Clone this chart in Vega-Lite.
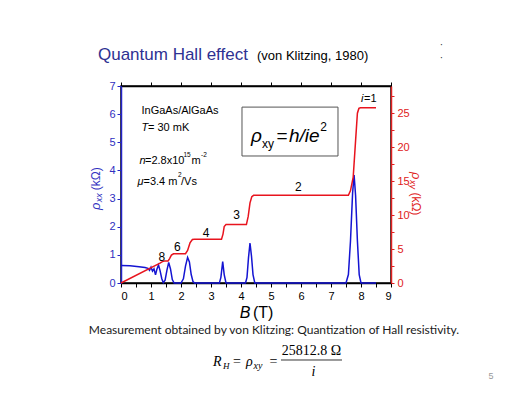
{
  "$schema": "https://vega.github.io/schema/vega-lite/v6.json",
  "width": 270,
  "height": 197,
  "autosize": {"type": "none"},
  "padding": {"left": 121, "top": 86, "right": 134, "bottom": 110},
  "background": "white",
  "view": {"stroke": "black", "strokeWidth": 1.5},
  "config": {"font": "Liberation Sans"},
  "datasets": {
    "one": [{}],
    "rxx": [
      {"B": 0, "r": 0.62}, {"B": 0.3, "r": 0.61}, {"B": 0.6, "r": 0.58}, {"B": 0.8, "r": 0.55},
      {"B": 0.9, "r": 0.52}, {"B": 0.95, "r": 0.45}, {"B": 1.0, "r": 0.56}, {"B": 1.05, "r": 0.42},
      {"B": 1.1, "r": 0.5}, {"B": 1.15, "r": 0.29}, {"B": 1.2, "r": 0.5}, {"B": 1.25, "r": 0.64},
      {"B": 1.3, "r": 0.45}, {"B": 1.36, "r": 0.15}, {"B": 1.41, "r": 0.01}, {"B": 1.47, "r": 0.1},
      {"B": 1.53, "r": 0.45}, {"B": 1.59, "r": 0.73}, {"B": 1.65, "r": 0.5}, {"B": 1.71, "r": 0.12},
      {"B": 1.77, "r": 0}, {"B": 2.0, "r": 0}, {"B": 2.08, "r": 0.15}, {"B": 2.15, "r": 0.6},
      {"B": 2.22, "r": 0.91}, {"B": 2.28, "r": 0.75}, {"B": 2.34, "r": 0.3}, {"B": 2.4, "r": 0.05},
      {"B": 2.45, "r": 0}, {"B": 3.28, "r": 0}, {"B": 3.33, "r": 0.2}, {"B": 3.39, "r": 0.76},
      {"B": 3.44, "r": 0.3}, {"B": 3.5, "r": 0}, {"B": 4.15, "r": 0}, {"B": 4.2, "r": 0.2},
      {"B": 4.25, "r": 0.9}, {"B": 4.3, "r": 1.42}, {"B": 4.35, "r": 0.95}, {"B": 4.4, "r": 0.3},
      {"B": 4.46, "r": 0}, {"B": 7.5, "r": 0}, {"B": 7.58, "r": 0.3}, {"B": 7.65, "r": 1.5},
      {"B": 7.72, "r": 3.2}, {"B": 7.77, "r": 3.84}, {"B": 7.82, "r": 3.1}, {"B": 7.88, "r": 1.5},
      {"B": 7.94, "r": 0.3}, {"B": 8.0, "r": 0}, {"B": 8.5, "r": 0}
    ],
    "rxy": [
      {"B": 0, "r": 0}, {"B": 1.3, "r": 2.92}, {"B": 1.38, "r": 3.15}, {"B": 1.45, "r": 3.23},
      {"B": 1.57, "r": 3.25}, {"B": 1.62, "r": 3.6}, {"B": 1.68, "r": 4.1}, {"B": 1.75, "r": 4.3},
      {"B": 2.15, "r": 4.32}, {"B": 2.22, "r": 4.8}, {"B": 2.3, "r": 5.9}, {"B": 2.38, "r": 6.4},
      {"B": 2.45, "r": 6.45}, {"B": 3.35, "r": 6.45}, {"B": 3.4, "r": 7.2}, {"B": 3.44, "r": 8.3},
      {"B": 3.5, "r": 8.6}, {"B": 4.18, "r": 8.6}, {"B": 4.24, "r": 9.8}, {"B": 4.3, "r": 11.8},
      {"B": 4.36, "r": 12.7}, {"B": 4.42, "r": 12.9}, {"B": 7.58, "r": 12.9}, {"B": 7.65, "r": 13.6},
      {"B": 7.74, "r": 15.6}, {"B": 7.82, "r": 21}, {"B": 7.88, "r": 25}, {"B": 7.93, "r": 25.7},
      {"B": 7.98, "r": 25.8}, {"B": 8.5, "r": 25.8}
    ],
    "plateaus": [
      {"B": 1.36, "v": 0.91, "label": "8"}, {"B": 1.877, "v": 1.27, "label": "6"},
      {"B": 2.833, "v": 1.78, "label": "4"}, {"B": 3.856, "v": 2.43, "label": "3"},
      {"B": 5.91, "v": 3.42, "label": "2"}
    ]
  },
  "layer": [
    {
      "data": {"name": "rxx"},
      "mark": {"type": "line", "color": "#1414d2", "strokeWidth": 1.5},
      "encoding": {
        "x": {"field": "B", "type": "quantitative", "scale": {"domain": [0, 9], "nice": false},
          "axis": {"orient": "bottom", "title": null, "values": [0,0.5,1,1.5,2,2.5,3,3.5,4,4.5,5,5.5,6,6.5,7,7.5,8,8.5,9],
            "labelExpr": "datum.value % 1 === 0 ? '' + datum.value : ''", "labelOverlap": false, "grid": false, "tickSize": 4,
            "tickColor": "black", "domainColor": "black", "domainWidth": 1.5, "labelColor": "black",
            "labelFontSize": 11, "labelPadding": 3, "labelFont": "Liberation Sans",
            "encoding": {"ticks": {"update": {"y2": {"value": -4}}}}}},
        "y": {"field": "r", "type": "quantitative", "scale": {"domain": [0, 7], "nice": false},
          "axis": {"orient": "left", "title": null, "values": [0,1,2,3,4,5,6,7], "labelOverlap": false, "grid": false, "tickSize": 4,
            "tickColor": "#2424c8", "domainColor": "#2424c8", "domainWidth": 1.5, "labelColor": "#3030c0",
            "labelFontSize": 11, "labelPadding": 2, "labelFont": "Liberation Sans",
            "encoding": {"ticks": {"update": {"x2": {"value": 4}}}}}}
      }
    },
    {
      "data": {"name": "rxy"},
      "mark": {"type": "line", "color": "#e8141e", "strokeWidth": 1.5},
      "encoding": {
        "x": {"field": "B", "type": "quantitative", "scale": {"domain": [0, 9], "nice": false},
          "axis": {"orient": "top", "title": null, "values": [0,1,2,3,4,5,6,7,8,9], "labels": false, "grid": false, "tickSize": 4,
            "tickColor": "black", "domainColor": "black", "domainWidth": 1.5,
            "encoding": {"ticks": {"update": {"y2": {"value": 4}}}}}},
        "y": {"field": "r", "type": "quantitative", "scale": {"domain": [0, 29], "nice": false},
          "axis": {"orient": "right", "title": null, "values": [0,2.5,5,7.5,10,12.5,15,17.5,20,22.5,25,27.5],
            "labelExpr": "datum.value % 5 === 0 ? datum.label : ''", "labelOverlap": false, "grid": false, "tickSize": 3,
            "tickColor": "#e02020", "domainColor": "#e02020", "domainWidth": 1.5, "labelColor": "#e02020",
            "labelFontSize": 11, "labelPadding": 3, "labelFont": "Liberation Sans"}}
      }
    },
    {
      "data": {"name": "one"},
      "mark": {"type": "rect", "fill": "white", "stroke": "#555555", "strokeWidth": 1},
      "encoding": {"x": {"datum": 4.033, "axis": null}, "x2": {"datum": 7.233}, "y": {"datum": 6.25, "axis": null, "scale": {"domain": [0, 7], "nice": false}}, "y2": {"datum": 4.513}}
    },
    {
      "data": {"name": "plateaus"},
      "mark": {"type": "text", "align": "center", "baseline": "middle", "fontSize": 12, "color": "black"},
      "encoding": {"x": {"field": "B", "type": "quantitative", "axis": null}, "y": {"field": "v", "type": "quantitative", "axis": null, "scale": {"domain": [0, 7], "nice": false}}, "text": {"field": "label"}}
    },
    {"data": {"name": "one"}, "mark": {"type": "text", "align": "left", "baseline": "middle", "fontSize": 11, "fontStyle": "italic"},
      "encoding": {"x": {"datum": 8.0, "axis": null}, "y": {"datum": 6.54, "axis": null, "scale": {"domain": [0, 7], "nice": false}}, "text": {"value": "i"}}},
    {"data": {"name": "one"}, "mark": {"type": "text", "align": "left", "baseline": "middle", "fontSize": 11},
      "encoding": {"x": {"datum": 8.1, "axis": null}, "y": {"datum": 6.54, "axis": null, "scale": {"domain": [0, 7], "nice": false}}, "text": {"value": "=1"}}},

    {"data": {"name": "one"}, "mark": {"type": "text", "align": "left", "baseline": "middle", "fontSize": 11},
      "encoding": {"x": {"datum": 0.683, "axis": null}, "y": {"datum": 6.112, "axis": null, "scale": {"domain": [0, 7], "nice": false}}, "text": {"value": "InGaAs/AlGaAs"}}},
    {"data": {"name": "one"}, "mark": {"type": "text", "align": "left", "baseline": "middle", "fontSize": 11, "fontStyle": "italic"},
      "encoding": {"x": {"datum": 0.683, "axis": null}, "y": {"datum": 5.508, "axis": null, "scale": {"domain": [0, 7], "nice": false}}, "text": {"value": "T"}}},
    {"data": {"name": "one"}, "mark": {"type": "text", "align": "left", "baseline": "middle", "fontSize": 11},
      "encoding": {"x": {"datum": 0.9, "axis": null}, "y": {"datum": 5.508, "axis": null, "scale": {"domain": [0, 7], "nice": false}}, "text": {"value": "= 30 mK"}}},
    {"data": {"name": "one"}, "mark": {"type": "text", "align": "left", "baseline": "middle", "fontSize": 11, "fontStyle": "italic"},
      "encoding": {"x": {"datum": 0.617, "axis": null}, "y": {"datum": 4.336, "axis": null, "scale": {"domain": [0, 7], "nice": false}}, "text": {"value": "n"}}},
    {"data": {"name": "one"}, "mark": {"type": "text", "align": "left", "baseline": "middle", "fontSize": 11},
      "encoding": {"x": {"datum": 0.8, "axis": null}, "y": {"datum": 4.336, "axis": null, "scale": {"domain": [0, 7], "nice": false}}, "text": {"value": "=2.8x10"}}},
    {"data": {"name": "one"}, "mark": {"type": "text", "align": "left", "baseline": "middle", "fontSize": 6.5},
      "encoding": {"x": {"datum": 2.08, "axis": null}, "y": {"datum": 4.56, "axis": null, "scale": {"domain": [0, 7], "nice": false}}, "text": {"value": "15"}}},
    {"data": {"name": "one"}, "mark": {"type": "text", "align": "left", "baseline": "middle", "fontSize": 11},
      "encoding": {"x": {"datum": 2.35, "axis": null}, "y": {"datum": 4.336, "axis": null, "scale": {"domain": [0, 7], "nice": false}}, "text": {"value": "m"}}},
    {"data": {"name": "one"}, "mark": {"type": "text", "align": "left", "baseline": "middle", "fontSize": 6.5},
      "encoding": {"x": {"datum": 2.67, "axis": null}, "y": {"datum": 4.56, "axis": null, "scale": {"domain": [0, 7], "nice": false}}, "text": {"value": "-2"}}},
    {"data": {"name": "one"}, "mark": {"type": "text", "align": "left", "baseline": "middle", "fontSize": 11, "fontStyle": "italic"},
      "encoding": {"x": {"datum": 0.55, "axis": null}, "y": {"datum": 3.6, "axis": null, "scale": {"domain": [0, 7], "nice": false}}, "text": {"value": "μ"}}},
    {"data": {"name": "one"}, "mark": {"type": "text", "align": "left", "baseline": "middle", "fontSize": 11},
      "encoding": {"x": {"datum": 0.75, "axis": null}, "y": {"datum": 3.6, "axis": null, "scale": {"domain": [0, 7], "nice": false}}, "text": {"value": "=3.4 m"}}},
    {"data": {"name": "one"}, "mark": {"type": "text", "align": "left", "baseline": "middle", "fontSize": 6.5},
      "encoding": {"x": {"datum": 1.9, "axis": null}, "y": {"datum": 3.82, "axis": null, "scale": {"domain": [0, 7], "nice": false}}, "text": {"value": "2"}}},
    {"data": {"name": "one"}, "mark": {"type": "text", "align": "left", "baseline": "middle", "fontSize": 11},
      "encoding": {"x": {"datum": 2.0, "axis": null}, "y": {"datum": 3.6, "axis": null, "scale": {"domain": [0, 7], "nice": false}}, "text": {"value": "/Vs"}}},

    {"data": {"name": "one"}, "mark": {"type": "text", "align": "left", "baseline": "alphabetic", "fontSize": 19, "fontStyle": "italic"},
      "encoding": {"x": {"datum": 4.333, "axis": null}, "y": {"datum": 5.01, "axis": null, "scale": {"domain": [0, 7], "nice": false}}, "text": {"value": "ρ"}}},
    {"data": {"name": "one"}, "mark": {"type": "text", "align": "left", "baseline": "alphabetic", "fontSize": 12},
      "encoding": {"x": {"datum": 4.7, "axis": null}, "y": {"datum": 4.8, "axis": null, "scale": {"domain": [0, 7], "nice": false}}, "text": {"value": "xy"}}},
    {"data": {"name": "one"}, "mark": {"type": "text", "align": "left", "baseline": "alphabetic", "fontSize": 19},
      "encoding": {"x": {"datum": 5.18, "axis": null}, "y": {"datum": 5.01, "axis": null, "scale": {"domain": [0, 7], "nice": false}}, "text": {"value": "="}}},
    {"data": {"name": "one"}, "mark": {"type": "text", "align": "left", "baseline": "alphabetic", "fontSize": 19, "fontStyle": "italic"},
      "encoding": {"x": {"datum": 5.6, "axis": null}, "y": {"datum": 5.01, "axis": null, "scale": {"domain": [0, 7], "nice": false}}, "text": {"value": "h/ie"}}},
    {"data": {"name": "one"}, "mark": {"type": "text", "align": "left", "baseline": "alphabetic", "fontSize": 12},
      "encoding": {"x": {"datum": 6.64, "axis": null}, "y": {"datum": 5.4, "axis": null, "scale": {"domain": [0, 7], "nice": false}}, "text": {"value": "2"}}},

    {"data": {"name": "one"}, "mark": {"type": "text", "align": "center", "baseline": "middle", "fontSize": 16, "fontStyle": "italic"},
      "encoding": {"x": {"datum": 4.133, "axis": null}, "y": {"datum": -1.066, "axis": null, "scale": {"domain": [0, 7], "nice": false}}, "text": {"value": "B"}}},
    {"data": {"name": "one"}, "mark": {"type": "text", "align": "left", "baseline": "middle", "fontSize": 16},
      "encoding": {"x": {"datum": 4.4, "axis": null}, "y": {"datum": -1.066, "axis": null, "scale": {"domain": [0, 7], "nice": false}}, "text": {"value": "(T)"}}},

    {"data": {"name": "one"}, "mark": {"type": "text", "align": "left", "baseline": "middle", "fontSize": 13, "fontStyle": "italic", "angle": 270, "color": "#3030c0"},
      "encoding": {"x": {"datum": -0.833, "axis": null}, "y": {"datum": 2.59, "axis": null, "scale": {"domain": [0, 7], "nice": false}}, "text": {"value": "ρ"}}},
    {"data": {"name": "one"}, "mark": {"type": "text", "align": "left", "baseline": "middle", "fontSize": 9, "fontStyle": "italic", "angle": 270, "color": "#3030c0"},
      "encoding": {"x": {"datum": -0.74, "axis": null}, "y": {"datum": 2.87, "axis": null, "scale": {"domain": [0, 7], "nice": false}}, "text": {"value": "xx"}}},
    {"data": {"name": "one"}, "mark": {"type": "text", "align": "left", "baseline": "middle", "fontSize": 12, "angle": 270, "color": "#3030c0"},
      "encoding": {"x": {"datum": -0.833, "axis": null}, "y": {"datum": 3.3, "axis": null, "scale": {"domain": [0, 7], "nice": false}}, "text": {"value": "(kΩ)"}}},

    {"data": {"name": "one"}, "mark": {"type": "text", "align": "left", "baseline": "middle", "fontSize": 13, "fontStyle": "italic", "angle": 90, "color": "#e02020"},
      "encoding": {"x": {"datum": 9.83, "axis": null}, "y": {"datum": 3.945, "axis": null, "scale": {"domain": [0, 7], "nice": false}}, "text": {"value": "ρ"}}},
    {"data": {"name": "one"}, "mark": {"type": "text", "align": "left", "baseline": "middle", "fontSize": 9, "fontStyle": "italic", "angle": 90, "color": "#e02020"},
      "encoding": {"x": {"datum": 9.74, "axis": null}, "y": {"datum": 3.66, "axis": null, "scale": {"domain": [0, 7], "nice": false}}, "text": {"value": "xy"}}},
    {"data": {"name": "one"}, "mark": {"type": "text", "align": "left", "baseline": "middle", "fontSize": 12, "angle": 90, "color": "#e02020"},
      "encoding": {"x": {"datum": 9.83, "axis": null}, "y": {"datum": 3.22, "axis": null, "scale": {"domain": [0, 7], "nice": false}}, "text": {"value": "(kΩ)"}}},

    {"data": {"name": "one"}, "mark": {"type": "text", "align": "left", "baseline": "middle", "fontSize": 17, "color": "#2e3192"},
      "encoding": {"x": {"datum": -0.767, "axis": null}, "y": {"datum": 8.09, "axis": null, "scale": {"domain": [0, 7], "nice": false}}, "text": {"value": "Quantum Hall effect"}}},
    {"data": {"name": "one"}, "mark": {"type": "text", "align": "left", "baseline": "middle", "fontSize": 13, "color": "black"},
      "encoding": {"x": {"datum": 4.533, "axis": null}, "y": {"datum": 8.07, "axis": null, "scale": {"domain": [0, 7], "nice": false}}, "text": {"value": "(von Klitzing, 1980)"}}},
    {"data": {"name": "one"}, "mark": {"type": "text", "align": "center", "baseline": "middle", "fontSize": 10, "color": "#333333"},
      "encoding": {"x": {"datum": 10.683, "axis": null}, "y": {"datum": 8.45, "axis": null, "scale": {"domain": [0, 7], "nice": false}}, "text": {"value": "·"}}},
    {"data": {"name": "one"}, "mark": {"type": "text", "align": "center", "baseline": "middle", "fontSize": 10, "color": "#333333"},
      "encoding": {"x": {"datum": 10.683, "axis": null}, "y": {"datum": 8.0, "axis": null, "scale": {"domain": [0, 7], "nice": false}}, "text": {"value": "·"}}},

    {"data": {"name": "one"}, "mark": {"type": "text", "align": "center", "baseline": "middle", "fontSize": 12, "font": "Lato", "color": "#1a1a1a"},
      "encoding": {"x": {"datum": 5.1, "axis": null}, "y": {"datum": -1.67, "axis": null, "scale": {"domain": [0, 7], "nice": false}}, "text": {"value": "Measurement obtained by von Klitzing: Quantization of Hall resistivity."}}},

    {"data": {"name": "one"}, "mark": {"type": "text", "align": "left", "baseline": "middle", "fontSize": 14, "font": "Liberation Serif", "fontStyle": "italic"},
      "encoding": {"x": {"datum": 3.067, "axis": null}, "y": {"datum": -2.807, "axis": null, "scale": {"domain": [0, 7], "nice": false}}, "text": {"value": "R"}}},
    {"data": {"name": "one"}, "mark": {"type": "text", "align": "left", "baseline": "middle", "fontSize": 9, "font": "Liberation Serif", "fontStyle": "italic"},
      "encoding": {"x": {"datum": 3.4, "axis": null}, "y": {"datum": -2.95, "axis": null, "scale": {"domain": [0, 7], "nice": false}}, "text": {"value": "H"}}},
    {"data": {"name": "one"}, "mark": {"type": "text", "align": "center", "baseline": "middle", "fontSize": 14, "font": "Liberation Serif"},
      "encoding": {"x": {"datum": 3.867, "axis": null}, "y": {"datum": -2.807, "axis": null, "scale": {"domain": [0, 7], "nice": false}}, "text": {"value": "="}}},
    {"data": {"name": "one"}, "mark": {"type": "text", "align": "left", "baseline": "middle", "fontSize": 14, "font": "Liberation Serif", "fontStyle": "italic"},
      "encoding": {"x": {"datum": 4.167, "axis": null}, "y": {"datum": -2.807, "axis": null, "scale": {"domain": [0, 7], "nice": false}}, "text": {"value": "ρ"}}},
    {"data": {"name": "one"}, "mark": {"type": "text", "align": "left", "baseline": "middle", "fontSize": 10, "font": "Liberation Serif", "fontStyle": "italic"},
      "encoding": {"x": {"datum": 4.417, "axis": null}, "y": {"datum": -2.95, "axis": null, "scale": {"domain": [0, 7], "nice": false}}, "text": {"value": "xy"}}},
    {"data": {"name": "one"}, "mark": {"type": "text", "align": "center", "baseline": "middle", "fontSize": 14, "font": "Liberation Serif"},
      "encoding": {"x": {"datum": 5.083, "axis": null}, "y": {"datum": -2.807, "axis": null, "scale": {"domain": [0, 7], "nice": false}}, "text": {"value": "="}}},
    {"data": {"name": "one"}, "mark": {"type": "text", "align": "center", "baseline": "middle", "fontSize": 14, "font": "Liberation Serif"},
      "encoding": {"x": {"datum": 6.35, "axis": null}, "y": {"datum": -2.434, "axis": null, "scale": {"domain": [0, 7], "nice": false}}, "text": {"value": "25812.8 Ω"}}},
    {"data": {"name": "one"}, "mark": {"type": "rule", "color": "black", "strokeWidth": 0.8},
      "encoding": {"x": {"datum": 5.333, "axis": null}, "x2": {"datum": 7.367}, "y": {"datum": -2.736, "axis": null, "scale": {"domain": [0, 7], "nice": false}}}},
    {"data": {"name": "one"}, "mark": {"type": "text", "align": "center", "baseline": "middle", "fontSize": 14, "font": "Liberation Serif", "fontStyle": "italic"},
      "encoding": {"x": {"datum": 6.417, "axis": null}, "y": {"datum": -3.145, "axis": null, "scale": {"domain": [0, 7], "nice": false}}, "text": {"value": "i"}}},
    {"data": {"name": "one"}, "mark": {"type": "text", "align": "center", "baseline": "middle", "fontSize": 9, "color": "#999999"},
      "encoding": {"x": {"datum": 12.333, "axis": null}, "y": {"datum": -3.305, "axis": null, "scale": {"domain": [0, 7], "nice": false}}, "text": {"value": "5"}}}
  ],
  "resolve": {"scale": {"y": "independent"}, "axis": {"x": "independent", "y": "independent"}}
}
